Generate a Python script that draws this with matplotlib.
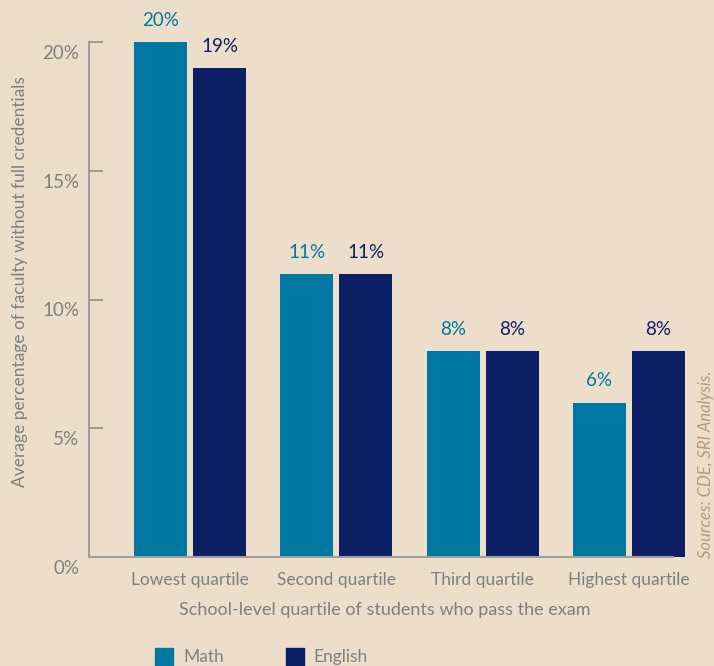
import matplotlib
matplotlib.use("Agg")
import matplotlib.pyplot as plt
from matplotlib.transforms import ScaledTranslation
from matplotlib.patches import Rectangle
import numpy as np

categories = ["Lowest quartile", "Second quartile", "Third quartile", "Highest quartile"]
math_vals = [20, 11, 8, 6]
english_vals = [19, 11, 8, 8]
series_names = ["Math", "English"]
yticks = [0, 5, 10, 15, 20]
ytick_labels = ["0%", "5%", "10%", "15%", "20%"]

BG = "#ecdecb"
MATH_C = "#0077a1"
ENG_C = "#0d1f64"
GRAY = "#7f7f7f"
AX_C = "#a09e9b"

plt.rcParams["font.family"] = ["Lato", "DejaVu Sans"]

W, H = 714, 666
fig = plt.figure(figsize=(W / 100, H / 100), dpi=100, facecolor=BG)
ax = fig.add_axes([89 / W, (H - 557) / H, (700 - 89) / W, (557 - 42) / H])
ax.set_facecolor(BG)

x = np.arange(len(categories))
unit = 146.3
bw = 53 / unit
off = 29.5 / unit

ax.bar(x - off, math_vals, bw, color=MATH_C, clip_on=False)
ax.bar(x + off, english_vals, bw, color=ENG_C, clip_on=False)

for xi, v in zip(x - off, math_vals):
    ax.annotate(f"{v}%", (xi, v), xytext=(0, 13), textcoords="offset pixels",
                ha="center", va="bottom", color=MATH_C, fontsize=13.5, annotation_clip=False)
for xi, v in zip(x + off, english_vals):
    ax.annotate(f"{v}%", (xi, v), xytext=(0, 13), textcoords="offset pixels",
                ha="center", va="bottom", color=ENG_C, fontsize=13.5, annotation_clip=False)

ax.set_xlim((89 - 190) / unit, (700 - 190) / unit)
ax.set_ylim(0, 20)

for s in ["top", "right"]:
    ax.spines[s].set_visible(False)
ax.spines["left"].set_color(AX_C)
ax.spines["bottom"].set_color(AX_C)
ax.spines["left"].set_linewidth(1.5)
ax.spines["bottom"].set_linewidth(1.5)
ax.spines["bottom"].set_bounds((89 - 190) / unit, (673 - 190) / unit)

ax.set_yticks(yticks)
ax.set_yticklabels(ytick_labels)
ax.tick_params(axis="y", direction="in", length=10, width=1.5, color=AX_C,
               labelcolor=GRAY, labelsize=13.5, pad=7)
for lab in ax.get_yticklabels():
    lab.set_transform(lab.get_transform() + ScaledTranslation(0, -0.10, fig.dpi_scale_trans))

ax.set_xticks(x)
ax.set_xticklabels(categories)
ax.tick_params(axis="x", length=0, labelcolor=GRAY, labelsize=12.5, pad=11)

fig.text(385 / W, 1 - 610 / H, "School-level quartile of students who pass the exam",
         ha="center", va="center", color=GRAY, fontsize=13)
fig.text(20 / W, 1 - 282 / H, "Average percentage of faculty without full credentials",
         ha="center", va="center", rotation=90, color=GRAY, fontsize=12.5)
fig.text(706 / W, 1 - 558 / H, "Sources: CDE, SRI Analysis.", ha="center", va="bottom",
         rotation=90, color="#b79a70", fontsize=12, style="italic")

# legend
leg_y = 1 - 657 / H
for (lx, tx, name, c) in [(155, 183, series_names[0], MATH_C), (286, 313, series_names[1], ENG_C)]:
    fig.patches.append(Rectangle((lx / W, leg_y - 9 / H), 18 / W, 18 / H,
                                 transform=fig.transFigure, color=c, figure=fig))
    fig.text(tx / W, leg_y, name, ha="left", va="center", color=GRAY, fontsize=12.5)

fig.savefig("out.png", dpi=100, facecolor=BG)
